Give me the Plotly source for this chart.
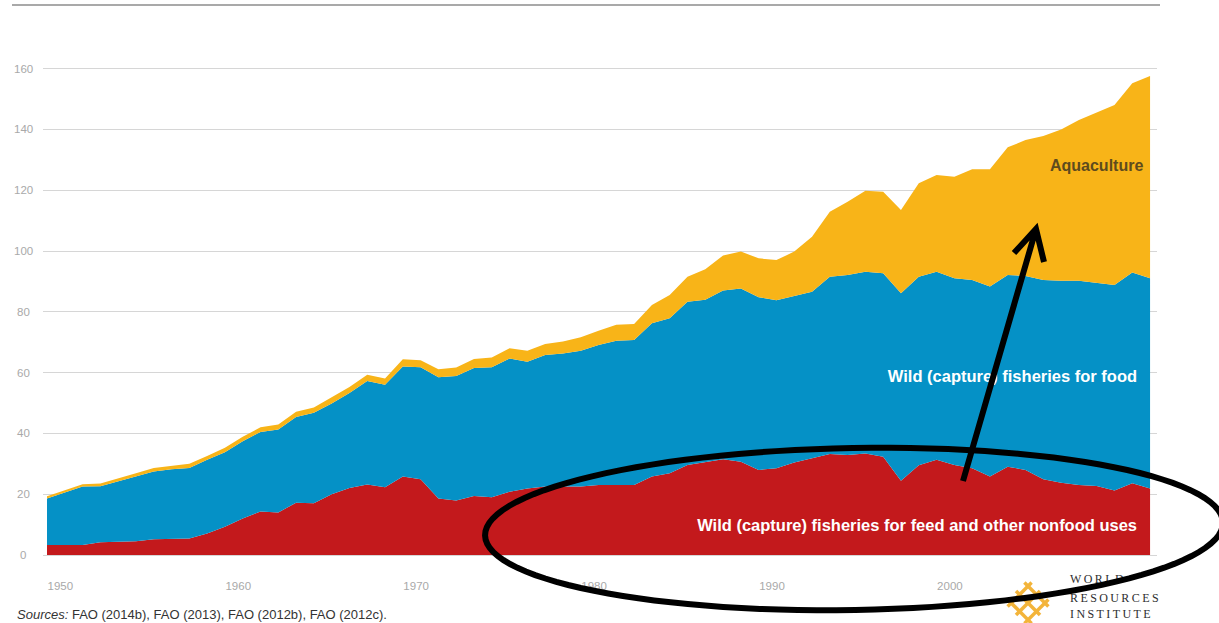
import math
import plotly.graph_objects as go

# World fish production by use, million tonnes, 1950-2012
years = list(range(1950, 2013))

feed_nonfood = [
    3.3, 3.3, 3.3, 4.2, 4.3, 4.5, 5.2, 5.3, 5.4, 7.1,
    9.3, 12.0, 14.3, 14.0, 17.2, 17.0, 20.0, 22.0, 23.2, 22.3,
    25.8, 24.9, 18.6, 17.9, 19.4, 19.0, 20.8, 21.9, 22.5, 22.5,
    22.5, 23.0, 23.0, 23.0, 25.8, 26.9, 29.6, 30.5, 31.5, 30.7,
    28.0, 28.5, 30.4, 31.8, 33.2, 32.9, 33.4, 32.3, 24.4, 29.5,
    31.3, 29.6, 28.5, 25.8, 29.0, 28.0, 24.9, 23.8, 23.0, 22.7,
    21.2, 23.6, 21.9,
]

wild_food = [
    15.3, 17.2, 19.2, 18.4, 20.0, 21.4, 22.3, 22.9, 23.2, 24.2,
    24.5, 25.4, 26.2, 27.3, 28.2, 29.8, 29.8, 31.3, 34.0, 33.7,
    36.2, 36.9, 39.9, 41.0, 42.1, 42.8, 43.8, 41.7, 43.3, 43.8,
    44.7, 46.1, 47.5, 47.7, 50.4, 51.0, 53.7, 53.5, 55.5, 57.0,
    56.8, 55.3, 54.8, 54.8, 58.3, 59.2, 59.8, 60.4, 61.7, 62.0,
    61.9, 61.4, 62.0, 62.5, 63.1, 63.8, 65.6, 66.4, 67.2, 66.9,
    67.6, 69.3, 69.1,
]

aquaculture = [
    0.7, 0.8, 0.8, 0.9, 1.0, 1.0, 1.1, 1.1, 1.4, 1.3,
    1.5, 1.5, 1.5, 1.6, 1.7, 1.7, 2.0, 2.0, 2.1, 2.1,
    2.4, 2.3, 2.6, 2.8, 3.0, 3.2, 3.4, 3.6, 3.6, 3.9,
    4.4, 4.7, 5.2, 5.3, 6.0, 7.6, 8.2, 10.0, 11.5, 12.1,
    12.8, 13.2, 14.6, 18.1, 21.4, 24.1, 26.6, 26.8, 27.4, 30.8,
    31.8, 33.4, 36.4, 38.6, 42.0, 44.7, 47.3, 49.8, 52.9, 55.9,
    59.2, 62.3, 66.6,
]

x_tick_years = [1950, 1960, 1970, 1980, 1990, 2000]
y_ticks = [0, 20, 40, 60, 80, 100, 120, 140, 160]

RED = "#C3191C"
BLUE = "#0591C6"
YELLOW = "#F8B418"

W, H = 1219, 623
ML, MR, MT, MB = 43, 62, 40, 0
PW, PH = W - ML - MR, H - MT - MB
Y_MIN, Y_MAX = -22.37, 169.41
X_MIN, X_MAX = 1949.775, 2012.39


def px(x):
    """Pixel column -> paper x."""
    return (x - ML) / PW


def py(y):
    """Pixel row -> paper y."""
    return (H - MB - y) / PH


fig = go.Figure()

for name, vals, color in [
    ("Wild (capture) fisheries for feed and other nonfood uses", feed_nonfood, RED),
    ("Wild (capture) fisheries for food", wild_food, BLUE),
    ("Aquaculture", aquaculture, YELLOW),
]:
    fig.add_trace(go.Scatter(
        x=years, y=vals, name=name, mode="lines",
        stackgroup="catch", line=dict(width=0, color=color),
        fillcolor=color, hoverinfo="x+y+name",
    ))

label_font = "Liberation Sans, Arial, sans-serif"


def text_trace(xs, ys, texts, pos, size, color, family=label_font):
    fig.add_trace(go.Scatter(
        x=xs, y=ys, mode="text", text=texts, textposition=pos,
        cliponaxis=False, hoverinfo="skip", showlegend=False,
        textfont=dict(family=family, size=size, color=color),
    ))


# Series labels inside the areas
text_trace([2011.62], [127.6], ["<b>Aquaculture</b>"], "middle left", 16, "#5E4B1E")
text_trace([2011.27], [58.2], ["<b>Wild (capture) fisheries for food</b>"],
           "middle left", 16.5, "#FFFFFF")
text_trace([2011.27], [9.2],
           ["<b>Wild (capture) fisheries for feed and other nonfood uses</b>"],
           "middle left", 16.5, "#FFFFFF")

# Year labels along the bottom
text_trace([y + 0.75 for y in x_tick_years], [-10.5] * len(x_tick_years),
           [str(y) for y in x_tick_years], "middle center", 11.5, "#A9A9A9")

# Institute wordmark
thin = "\u2009"
text_trace([2007.5] * 3, [-8.2, -14.4, -19.9],
           [thin.join("WORLD"), thin.join("RESOURCES"), thin.join("INSTITUTE")],
           "middle right", 12, "#2E2E2E", family="Liberation Serif, serif")

shapes = []

# Rule across the top
shapes.append(dict(type="line", xref="paper", yref="paper",
                   x0=px(12), x1=px(1160), y0=py(5), y1=py(5),
                   line=dict(color="#8C8C8C", width=1.5)))

# Woven lattice emblem
cx, cy, h = 1028, 603, 24
for t in (0.15, 0.5, 0.85):
    sx, sy = cx - h + t * h, cy + t * h
    shapes.append(dict(type="line", xref="paper", yref="paper",
                       x0=px(sx), y0=py(sy), x1=px(sx + h), y1=py(sy - h),
                       line=dict(color="#F3B43A", width=3.5)))
    sx, sy = cx - h + t * h, cy - t * h
    shapes.append(dict(type="line", xref="paper", yref="paper",
                       x0=px(sx), y0=py(sy), x1=px(sx + h), y1=py(sy + h),
                       line=dict(color="#F3B43A", width=3.5)))

# Hand-drawn ellipse around the feed band
ecx, ecy, ea, eb, rot = 854, 529, 369, 81, math.radians(-1.0)
pts = []
for i in range(121):
    th = 2 * math.pi * i / 120
    ex = ecx + ea * math.cos(th) * math.cos(rot) - eb * math.sin(th) * math.sin(rot)
    ey = ecy + ea * math.cos(th) * math.sin(rot) + eb * math.sin(th) * math.cos(rot)
    pts.append(f"{px(ex):.5f},{py(ey):.5f}")
shapes.append(dict(type="path", xref="paper", yref="paper", layer="above",
                   path="M " + " L ".join(pts) + " Z",
                   line=dict(color="#000000", width=6)))

# Arrow pointing up into the aquaculture band
base, tip = (963, 481), (1036, 229)
wing_l, wing_r = (1014, 253), (1044, 262)
arrow_path = (f"M {px(base[0])},{py(base[1])} L {px(tip[0])},{py(tip[1])} "
              f"M {px(wing_l[0])},{py(wing_l[1])} L {px(tip[0])},{py(tip[1])} "
              f"L {px(wing_r[0])},{py(wing_r[1])}")
shapes.append(dict(type="path", xref="paper", yref="paper", layer="above",
                   path=arrow_path, line=dict(color="#000000", width=6)))

annotations = []
for v in y_ticks:
    annotations.append(dict(
        x=px(23), xref="paper", y=v, yref="y", text=str(v), showarrow=False,
        xanchor="center", yanchor="middle",
        font=dict(family=label_font, size=11.5, color="#A9A9A9"),
    ))

annotations.append(dict(
    x=px(15), xref="paper", y=py(614), yref="paper", showarrow=False,
    xanchor="left", yanchor="middle",
    text="<i>Sources:</i> FAO (2014b), FAO (2013), FAO (2012b), FAO (2012c).",
    font=dict(family=label_font, size=13, color="#333333"),
))

fig.update_layout(
    width=W, height=H, autosize=False,
    margin=dict(l=ML, r=MR, t=MT, b=MB, pad=0),
    paper_bgcolor="#FFFFFF", plot_bgcolor="#FFFFFF",
    showlegend=False,
    shapes=shapes, annotations=annotations,
    xaxis=dict(
        range=[X_MIN, X_MAX], showgrid=False, zeroline=False, showline=False,
        showticklabels=False, ticks="",
    ),
    yaxis=dict(
        range=[Y_MIN, Y_MAX], tickvals=y_ticks, showticklabels=False,
        showgrid=True, gridcolor="#D6D6D6", gridwidth=1, zeroline=False, showline=False,
    ),
)

fig.write_html("out.html")
